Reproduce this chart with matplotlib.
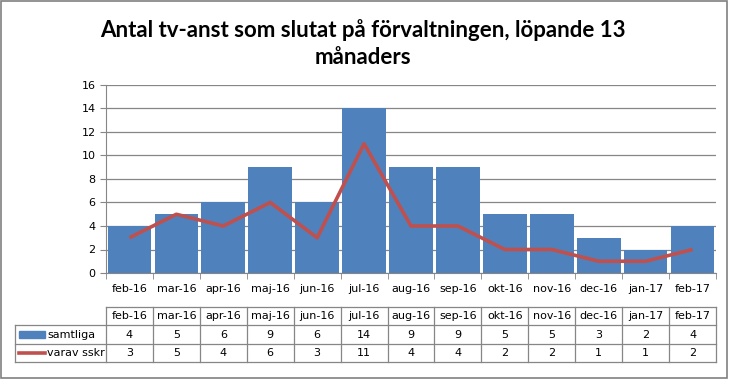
import numpy as np
import matplotlib.pyplot as plt
from matplotlib.patches import Rectangle

months = ["feb-16", "mar-16", "apr-16", "maj-16", "jun-16", "jul-16", "aug-16",
          "sep-16", "okt-16", "nov-16", "dec-16", "jan-17", "feb-17"]
samtliga = [4, 5, 6, 9, 6, 14, 9, 9, 5, 5, 3, 2, 4]
varav_sskr = [3, 5, 4, 6, 3, 11, 4, 4, 2, 2, 1, 1, 2]
yticks = [0, 2, 4, 6, 8, 10, 12, 14, 16]

bar_color = "#4F81BD"
line_color = "#C0504D"
grid_color = "#868686"
W, H = 729, 381
fs = 8

plt.rcParams["font.family"] = ["DejaVu Sans"]
fig = plt.figure(figsize=(W / 100, H / 100), dpi=100)

# outer border
fig.patches.append(Rectangle((1 / W, 3 / H), 726 / W, 377 / H, transform=fig.transFigure,
                             fill=False, edgecolor="#808080", lw=1.2))

fig.text(363 / W, 1 - 30 / H, "Antal tv-anst som slutat på förvaltningen, löpande 13",
         ha="center", va="center", fontsize=16, fontweight="bold", family="Lato")
fig.text(363 / W, 1 - 58 / H, "månaders",
         ha="center", va="center", fontsize=16, fontweight="bold", family="Lato")

x = np.arange(len(months))
ax = fig.add_axes([106 / W, 1 - 273 / H, 610 / W, 188 / H])
ax.bar(x, samtliga, width=0.93, color=bar_color, zorder=2)
ax.plot(x, varav_sskr, color=line_color, lw=2.6, zorder=3, solid_capstyle="butt")
ax.set_xlim(-0.5, len(months) - 0.5)
ax.set_ylim(0, 16)
ax.set_yticks(yticks)
ax.yaxis.grid(True, color=grid_color, lw=0.9, zorder=0)
ax.set_axisbelow(True)
for s in ["top", "right"]:
    ax.spines[s].set_visible(False)
for s in ["left", "bottom"]:
    ax.spines[s].set_color(grid_color)
ax.set_xticks(x)
ax.set_xticklabels(months, fontsize=fs)
ax.tick_params(axis="x", length=0, pad=8)
ax.set_xticks(np.arange(len(months) + 1) - 0.5, minor=True)
ax.tick_params(axis="x", which="minor", length=4, color=grid_color)
ax.tick_params(axis="y", length=4, color=grid_color, labelsize=fs)

# data table below the chart
tab = fig.add_axes([106 / W, 1 - 362 / H, 610 / W, 55 / H])
tab.set_xlim(-0.5, len(months) - 0.5)
tab.set_ylim(3, 0)
tab.axis("off")
left = -0.5 - 91 / (610 / len(months))
kw = dict(color=grid_color, lw=0.9, clip_on=False)
tab.plot([-0.5, len(months) - 0.5], [0, 0], **kw)
for r in [1, 2, 3]:
    tab.plot([left, len(months) - 0.5], [r, r], **kw)
tab.plot([left, left], [1, 3], **kw)
for c in range(len(months) + 1):
    tab.plot([c - 0.5, c - 0.5], [0, 3], **kw)
for i, m in enumerate(months):
    tab.text(i, 0.5, m, ha="center", va="center", fontsize=fs)
    tab.text(i, 1.5, str(samtliga[i]), ha="center", va="center", fontsize=fs)
    tab.text(i, 2.5, str(varav_sskr[i]), ha="center", va="center", fontsize=fs)
key_w = 26 / (610 / len(months))
tab.add_patch(Rectangle((left + 0.08, 1.3), key_w, 0.4, color=bar_color, clip_on=False))
tab.plot([left + 0.08, left + 0.08 + key_w], [2.5, 2.5], color=line_color, lw=2.6, clip_on=False)
tab.text(left + 0.08 + key_w + 0.05, 1.5, "samtliga", ha="left", va="center", fontsize=fs)
tab.text(left + 0.08 + key_w + 0.05, 2.5, "varav sskr", ha="left", va="center", fontsize=fs)

fig.savefig("out.png", dpi=100)
